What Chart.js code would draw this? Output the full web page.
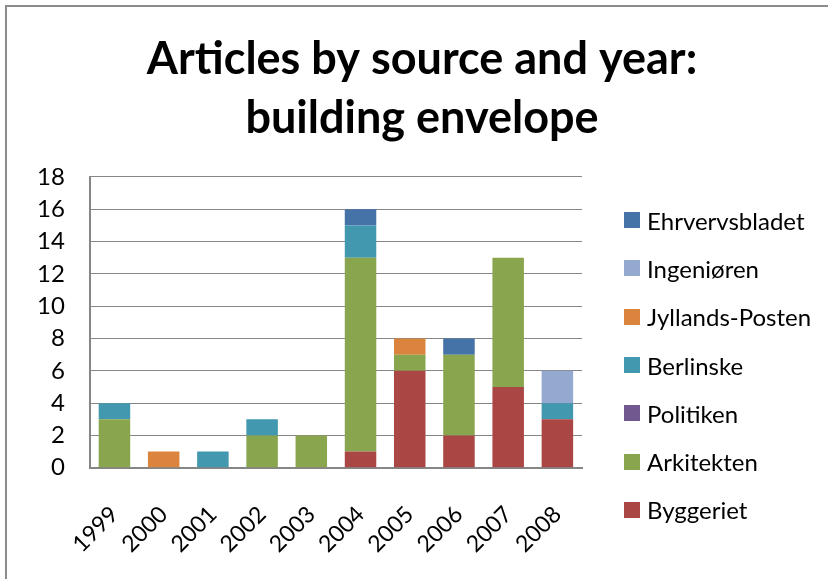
<!DOCTYPE html>
<html>
<head>
<meta charset="utf-8">
<script src="https://cdn.jsdelivr.net/npm/chart.js@4"></script>
<style>
    html, body { margin: 0; padding: 0; background: #fff; }
    #ramme { position: absolute; left: 5px; top: 5px; width: 823px; height: 574px; border-left: 2px solid #8c8c8c; border-top: 2px solid #8c8c8c; box-sizing: border-box; }
    #grafico-artikler { position: absolute; left: 0; top: 0; }
    #legenda { position: absolute; left: 624px; top: 196px; margin: 0; padding: 0; list-style: none; font-family: Lato, "Open Sans", sans-serif; font-size: 24px; color: #000; }
    #legenda li { height: 48.3px; display: flex; align-items: center; white-space: nowrap; }
    #legenda span { display: inline-block; width: 16px; height: 16px; margin-right: 7px; }
</style>
</head>
<body>
<div id="ramme"></div>
<canvas id="grafico-artikler" width="828" height="579"></canvas>
<ul id="legenda"></ul>
<script>
// DADOS DO GRÁFICO
const aar = ['1999', '2000', '2001', '2002', '2003', '2004', '2005', '2006', '2007', '2008'];
const byggeriet      = [0, 0, 0, 0, 0, 1, 6, 2, 5, 3];
const arkitekten     = [3, 0, 0, 2, 2, 12, 1, 5, 8, 0];
const politiken      = [0, 0, 0, 0, 0, 0, 0, 0, 0, 0];
const berlinske      = [1, 0, 1, 1, 0, 2, 0, 0, 0, 1];
const jyllandsPosten = [0, 1, 0, 0, 0, 0, 1, 0, 0, 0];
const ingenioren     = [0, 0, 0, 0, 0, 0, 0, 0, 0, 2];
const ehrvervsbladet = [0, 0, 0, 0, 0, 1, 0, 1, 0, 0];
const tituloLinhas = ['Articles by source and year:', 'building envelope'];

const fonte = 'Lato, "Open Sans", sans-serif';

function serie(label, data, cor) {
    return {
        label: label,
        data: data,
        backgroundColor: cor,
        borderWidth: 0,
        barPercentage: 0.64,
        categoryPercentage: 1
    };
}

// legenda em HTML, montada a partir dos datasets do gráfico (ordem invertida)
function montarLegenda(grafico) {
    let lista = document.getElementById('legenda');
    let itens = grafico.data.datasets.slice().reverse();
    itens.forEach(ds => {
        let li = document.createElement('li');
        let caixa = document.createElement('span');
        caixa.style.background = ds.backgroundColor;
        li.appendChild(caixa);
        li.appendChild(document.createTextNode(ds.label));
        lista.appendChild(li);
    });
}

function gerarGraficoArtikler() {
    let canvas = document.getElementById('grafico-artikler');
    let ctx = canvas.getContext('2d');

    let data = {
        labels: aar,
        datasets: [
            serie('Byggeriet', byggeriet, '#AA4643'),
            serie('Arkitekten', arkitekten, '#89A54E'),
            serie('Politiken', politiken, '#71588F'),
            serie('Berlinske', berlinske, '#4198AF'),
            serie('Jyllands-Posten', jyllandsPosten, '#DB843D'),
            serie('Ingeniøren', ingenioren, '#93A9CF'),
            serie('Ehrvervsbladet', ehrvervsbladet, '#4572A7')
        ]
    };

    let options = {
        responsive: false,
        animation: false,
        layout: { padding: { left: 12, right: -4, top: 0, bottom: -12 } },
        plugins: {
            title: {
                display: true,
                text: tituloLinhas,
                color: '#000',
                font: { family: fonte, size: 45, weight: 'bold', lineHeight: 1.311 },
                padding: { top: 30, bottom: 29 }
            },
            legend: { display: false },
            tooltip: { enabled: false }
        },
        scales: {
            x: {
                stacked: true,
                grid: { display: false, drawTicks: false },
                border: { color: '#868686', width: 2 },
                ticks: {
                    color: '#000',
                    font: { family: fonte, size: 23 },
                    maxRotation: 45,
                    minRotation: 45,
                    autoSkip: false,
                    padding: 33
                }
            },
            y: {
                stacked: true,
                min: 0,
                max: 18,
                grid: { color: '#868686', lineWidth: 1, drawTicks: false },
                border: { color: '#868686', width: 2 },
                ticks: {
                    stepSize: 2,
                    autoSkip: false,
                    color: '#000',
                    font: { family: fonte, size: 24 },
                    padding: 25
                }
            },
            // eixo vazio que reserva o espaço da legenda à direita
            folga: {
                type: 'linear',
                position: 'right',
                grid: { display: false, drawTicks: false },
                border: { display: false },
                ticks: { display: false },
                afterFit: function (escala) {
                    escala.width = 250;
                }
            }
        }
    };

    // RENDERIZAR GRÁFICO
    let grafico = new Chart(ctx, {
        type: 'bar',
        data: data,
        options: options
    });
    montarLegenda(grafico);
}

gerarGraficoArtikler();
</script>
</body>
</html>
